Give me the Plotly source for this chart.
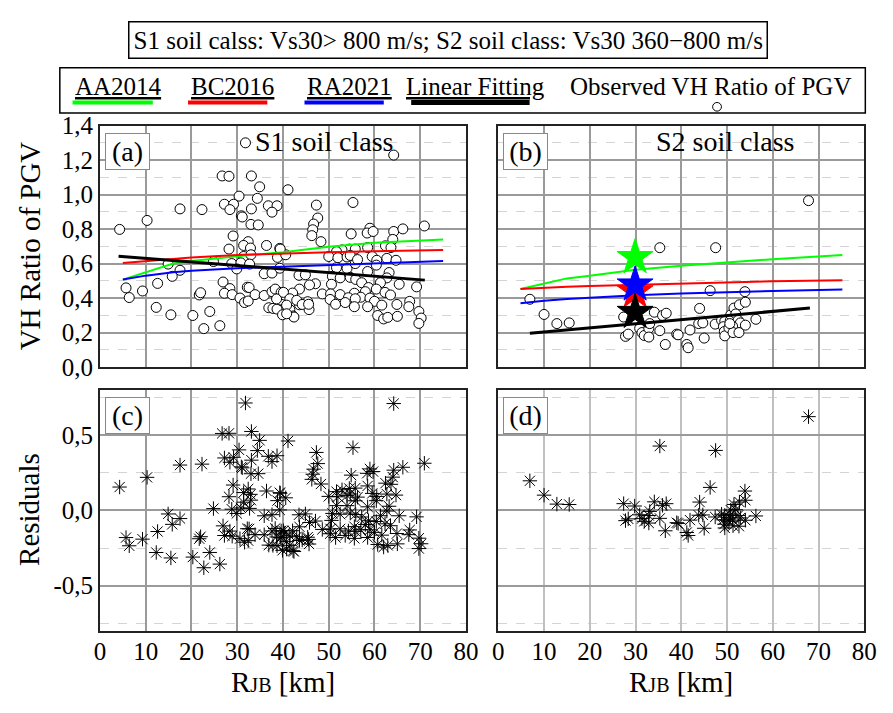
import numpy as np
import plotly.graph_objects as go

# ---------------- data ----------------
# Panel (a): observed VH ratio of PGV, S1 soil class
S1_RJB = [31.8, 26.7, 28.2, 33.1, 34.9, 30.4, 34.4, 27.2, 29.2, 28.4,
          17.5, 22.3, 33.1, 30.9, 31.1, 33.0, 34.6, 36.8, 38.7, 37.6,
          10.3, 4.3, 29.1, 32.4, 31.4, 32.9, 36.4, 28.2, 39.3, 31.4,
          33.0, 38.8, 28.8, 30.8, 32.7, 14.9, 24.8, 17.5, 15.8, 29.9,
          35.9, 37.6, 39.3, 5.7, 6.4, 9.3, 12.6, 12.3, 15.5, 20.3,
          21.7, 22.0, 24.0, 22.7, 26.2, 26.9, 28.4, 27.2, 28.9, 30.6,
          31.6, 32.4, 32.2, 32.6, 33.9, 35.9, 37.6, 38.3, 39.6, 36.9,
          37.8, 38.7, 39.9, 39.6, 41.5, 42.2, 43.6, 45.4, 45.7, 39.4,
          40.4, 38.6,
          64.2, 41.1, 55.3, 47.3, 47.6, 46.7, 46.5, 46.3, 48.3, 59.0,
          58.4, 59.7, 64.2, 66.2, 70.9, 54.9, 64.0, 62.4, 63.6, 58.5,
          54.5, 55.8, 52.9, 51.7, 50.0, 52.0, 54.0, 54.7, 59.5, 60.5,
          62.7, 64.7, 40.6, 39.4, 51.7, 54.0, 55.8, 56.3, 60.4, 58.5,
          63.2, 43.5, 44.9, 50.8, 52.5, 54.7, 55.9, 62.7, 61.3, 50.6,
          47.1, 45.8, 57.2, 65.4, 69.2, 43.6, 42.1, 40.1, 48.6, 50.4,
          52.5, 55.6, 58.7, 60.4, 58.0, 57.0, 59.0, 62.3, 63.5, 41.5,
          43.0, 50.3, 54.3, 55.8, 60.0, 40.8, 44.2, 45.6, 51.5, 53.6,
          55.6, 58.5, 61.6, 64.9, 67.7, 67.5, 42.4, 40.8, 60.7, 62.0,
          62.9, 65.0, 69.7, 70.2, 69.7]
S1_VH = [1.300, 1.108, 1.106, 1.108, 1.045, 0.991, 0.978, 0.944, 0.944, 0.913,
         0.917, 0.913, 0.917, 0.877, 0.870, 0.827, 0.824, 0.935, 0.935, 0.898,
         0.850, 0.798, 0.760, 0.727, 0.705, 0.690, 0.705, 0.684, 0.688, 0.641,
         0.651, 0.636, 0.600, 0.604, 0.597, 0.597, 0.612, 0.561, 0.526, 0.569,
         0.541, 0.545, 0.573, 0.459, 0.403, 0.441, 0.485, 0.346, 0.303, 0.299,
         0.418, 0.431, 0.322, 0.223, 0.240, 0.493, 0.455, 0.428, 0.420, 0.400,
         0.374, 0.383, 0.463, 0.461, 0.420, 0.415, 0.437, 0.452, 0.433, 0.344,
         0.340, 0.336, 0.303, 0.387, 0.333, 0.296, 0.361, 0.379, 0.333, 0.389,
         0.417, 0.395,
         1.229, 1.028, 0.954, 0.939, 0.864, 0.829, 0.796, 0.762, 0.727, 0.805,
         0.777, 0.786, 0.786, 0.801, 0.818, 0.772, 0.740, 0.703, 0.693, 0.693,
         0.684, 0.684, 0.679, 0.669, 0.641, 0.634, 0.638, 0.647, 0.641, 0.619,
         0.630, 0.619, 0.651, 0.684, 0.576, 0.571, 0.600, 0.623, 0.591, 0.554,
         0.548, 0.532, 0.535, 0.526, 0.517, 0.520, 0.508, 0.517, 0.489, 0.480,
         0.483, 0.476, 0.489, 0.480, 0.465, 0.452, 0.429, 0.433, 0.424, 0.424,
         0.420, 0.428, 0.461, 0.452, 0.437, 0.405, 0.400, 0.433, 0.418, 0.396,
         0.387, 0.392, 0.402, 0.396, 0.381, 0.359, 0.363, 0.364, 0.364, 0.374,
         0.350, 0.350, 0.359, 0.363, 0.381, 0.350, 0.290, 0.309, 0.299, 0.279,
         0.288, 0.294, 0.322, 0.284, 0.253]

# Panel (b): observed VH ratio of PGV, S2 soil class
S2_RJB = [6.9, 10.0, 12.8, 15.5, 35.3, 47.5, 46.3, 53.9, 27.4, 27.8,
          28.4, 29.8, 30.9, 31.4, 31.9, 32.9, 33.1, 32.9, 34.1, 35.9,
          36.7, 35.3, 36.5, 39.0, 39.3, 41.2, 41.5, 41.9, 44.0, 43.8,
          44.7, 45.0, 47.4, 48.8, 49.5, 49.2, 49.4, 49.5, 50.7, 50.8,
          51.5, 52.7, 54.0, 51.9, 52.4, 52.9, 54.0, 51.2, 50.4, 51.3,
          52.6, 56.3, 50.6, 67.8]
S2_VH = [0.393, 0.305, 0.252, 0.256, 0.692, 0.692, 0.443, 0.437, 0.290, 0.178,
         0.191, 0.280, 0.224, 0.200, 0.183, 0.224, 0.252, 0.174, 0.318, 0.299,
         0.312, 0.211, 0.131, 0.191, 0.187, 0.131, 0.112, 0.215, 0.340, 0.252,
         0.256, 0.168, 0.249, 0.271, 0.265, 0.234, 0.206, 0.181, 0.271, 0.303,
         0.342, 0.361, 0.376, 0.308, 0.271, 0.256, 0.243, 0.237, 0.228, 0.200,
         0.200, 0.277, 0.252, 0.965]

S1_MODEL_X = [5, 10, 16, 20, 30, 40, 50, 60, 75]
S1_AA2014 = [0.507, 0.55, 0.60, 0.615, 0.643, 0.665, 0.697, 0.72, 0.74]
S1_BC2016 = [0.604, 0.615, 0.627, 0.635, 0.65, 0.66, 0.666, 0.672, 0.678]
S1_RA2021 = [0.507, 0.53, 0.550, 0.558, 0.573, 0.582, 0.595, 0.603, 0.615]

S2_MODEL_X = [4.85, 10, 15, 20, 30, 40, 50, 60, 75.2]
S2_AA2014 = [0.452, 0.485, 0.514, 0.530, 0.564, 0.588, 0.607, 0.625, 0.649]
S2_BC2016 = [0.452, 0.460, 0.465, 0.470, 0.477, 0.485, 0.492, 0.497, 0.503]
S2_RA2021 = [0.370, 0.385, 0.395, 0.403, 0.417, 0.426, 0.434, 0.441, 0.449]

# Linear fitting lines (end points)
S1_FIT_X = [4.06, 71.0]
S1_FIT_Y = [0.643, 0.504]
S2_FIT_X = [6.9, 68.1]
S2_FIT_Y = [0.196, 0.342]

# Star markers at RJB = 30 km (S2 panel)
STAR_X = [29.9, 29.9, 29.9, 29.9]
STAR_Y = [0.437, 0.477, 0.636, 0.318]
STAR_COLORS = ["#ff0000", "#0000ff", "#00ff00", "#000000"]

# Tick labels
X_TICKS = [0, 10, 20, 30, 40, 50, 60, 70, 80]
VH_TICKVALS = [0.0, 0.2, 0.4, 0.6, 0.8, 1.0, 1.2, 1.4]
VH_TICKTEXT = ["0,0", "0,2", "0,4", "0,6", "0,8", "1,0", "1,2", "1,4"]
RES_TICKVALS = [-0.5, 0.0, 0.5]
RES_TICKTEXT = ["-0,5", "0,0", "0,5"]

# residuals = observed - linear fit
def residuals(xs, ys, fx, fy):
    xs = np.asarray(xs); ys = np.asarray(ys)
    slope = (fy[1] - fy[0]) / (fx[1] - fx[0])
    return ys - (fy[0] + slope * (xs - fx[0]))

S1_RES = residuals(S1_RJB, S1_VH, S1_FIT_X, S1_FIT_Y)
S2_RES = residuals(S2_RJB, S2_VH, S2_FIT_X, S2_FIT_Y)

# ---------------- figure ----------------
W, H = 893, 713
FONT = "Liberation Serif"
GREEN, RED, BLUE = "#00ff00", "#ff0000", "#0000ff"

def px(x):
    return x / W

def py(y):
    return 1 - y / H

fig = go.Figure()

circle = dict(symbol="circle", size=10, color="white", line=dict(color="black", width=1))
aster = dict(symbol="asterisk-open", size=12, color="black", line=dict(color="black", width=1))

# Panel (a)
fig.add_trace(go.Scatter(x=S1_RJB, y=S1_VH, mode="markers", marker=circle, xaxis="x", yaxis="y"))
fig.add_trace(go.Scatter(x=S1_MODEL_X, y=S1_AA2014, mode="lines", line=dict(color=GREEN, width=2), xaxis="x", yaxis="y"))
fig.add_trace(go.Scatter(x=S1_MODEL_X, y=S1_BC2016, mode="lines", line=dict(color=RED, width=2), xaxis="x", yaxis="y"))
fig.add_trace(go.Scatter(x=S1_MODEL_X, y=S1_RA2021, mode="lines", line=dict(color=BLUE, width=2), xaxis="x", yaxis="y"))
fig.add_trace(go.Scatter(x=S1_FIT_X, y=S1_FIT_Y, mode="lines", line=dict(color="black", width=3), xaxis="x", yaxis="y"))

# Panel (b)
fig.add_trace(go.Scatter(x=S2_RJB, y=S2_VH, mode="markers", marker=circle, xaxis="x2", yaxis="y2"))
fig.add_trace(go.Scatter(x=S2_MODEL_X, y=S2_AA2014, mode="lines", line=dict(color=GREEN, width=2), xaxis="x2", yaxis="y2"))
fig.add_trace(go.Scatter(x=S2_MODEL_X, y=S2_BC2016, mode="lines", line=dict(color=RED, width=2), xaxis="x2", yaxis="y2"))
fig.add_trace(go.Scatter(x=S2_MODEL_X, y=S2_RA2021, mode="lines", line=dict(color=BLUE, width=2), xaxis="x2", yaxis="y2"))
fig.add_trace(go.Scatter(x=S2_FIT_X, y=S2_FIT_Y, mode="lines", line=dict(color="black", width=3), xaxis="x2", yaxis="y2"))
fig.add_trace(go.Scatter(x=STAR_X, y=STAR_Y, mode="markers",
                         marker=dict(symbol="star", size=27, color=STAR_COLORS,
                                     line=dict(color=STAR_COLORS, width=1)),
                         xaxis="x2", yaxis="y2"))

# Panel (c), (d)
fig.add_trace(go.Scatter(x=S1_RJB, y=S1_RES, mode="markers", marker=aster, xaxis="x3", yaxis="y3"))
fig.add_trace(go.Scatter(x=S2_RJB, y=S2_RES, mode="markers", marker=aster, xaxis="x4", yaxis="y4"))

L_DOM = [px(96), px(470)]
R_DOM = [px(503), px(877)]
T_DOM = [py(368), py(117)]
B_DOM = [py(642), py(392)]

tickfont = dict(family=FONT, size=25, color="black")

def xax(domain, anchor, labels, gridcolor="#9a9a9a"):
    return dict(domain=domain, anchor=anchor, range=[0, 80], tickvals=X_TICKS,
                showticklabels=labels, tickfont=tickfont, ticks="", ticklabelstandoff=-3,
                showgrid=True, gridcolor=gridcolor, gridwidth=1.5, zeroline=False,
                showline=True, mirror=True, linecolor="#222", linewidth=2)

def yax(domain, anchor, rng, tv, tt, minor_vals, labels):
    return dict(domain=domain, anchor=anchor, range=rng, tickmode="array",
                tickvals=tv, ticktext=tt, showticklabels=labels, tickfont=tickfont,
                ticks="", showgrid=True, gridcolor="#9a9a9a", gridwidth=1.5, zeroline=False,
                showline=True, mirror=True, linecolor="#222", linewidth=2,
                minor=dict(tickmode="array", tickvals=minor_vals, showgrid=True,
                           gridcolor="#d4d4d4", gridwidth=1, griddash="dash", ticks=""))

VH_MINOR = [0.1, 0.3, 0.5, 0.7, 0.9, 1.1, 1.3]
RES_MINOR = [-0.75, -0.25, 0.25, 0.75]

fig.update_layout(
    width=W, height=H, margin=dict(l=0, r=0, t=0, b=0),
    paper_bgcolor="white", plot_bgcolor="white", showlegend=False,
    font=dict(family=FONT, color="black"),
    xaxis=xax(L_DOM, "y", False),
    yaxis=yax(T_DOM, "x", [0, 1.4], VH_TICKVALS, VH_TICKTEXT, VH_MINOR, True),
    xaxis2=xax(R_DOM, "y2", False),
    yaxis2=yax(T_DOM, "x2", [0, 1.4], VH_TICKVALS, VH_TICKTEXT, VH_MINOR, False),
    xaxis3=xax(L_DOM, "y3", True),
    yaxis3=yax(B_DOM, "x3", [-0.8, 0.8], RES_TICKVALS, RES_TICKTEXT, RES_MINOR, True),
    xaxis4=xax(R_DOM, "y4", True, gridcolor="#c0c0c0"),
    yaxis4=yax(B_DOM, "x4", [-0.8, 0.8], RES_TICKVALS, RES_TICKTEXT, RES_MINOR, False),
)

def note(text, x, y, size, xanchor="center", yanchor="middle", **kw):
    d = dict(text=text, x=px(x), y=py(y), xref="paper", yref="paper",
             xanchor=xanchor, yanchor=yanchor, showarrow=False,
             font=dict(family=FONT, size=size, color="black"))
    d.update(kw)
    return d

ann = []
# Title box
ann.append(note("S1 soil calss: Vs30&gt; 800 m/s; S2 soil class: Vs30 360\u2212800 m/s",
                451.5, 28, 25, bordercolor="black", borderwidth=1.5, borderpad=4, bgcolor="white"))
# Legend texts
leg_items = [("<u>AA2014</u>", 68), ("<u>BC2016</u>", 187), ("<u>RA2021</u>", 305),
             ("<u>Linear Fitting</u>", 407), ("Observed VH Ratio of PGV", 574)]
for t, x0 in leg_items:
    ann.append(note(t, x0, 76, 25, xanchor="left"))
# Panel labels
for lab, x0, y0 in [("(a)", 101, 125), ("(b)", 508, 125), ("(c)", 101, 399), ("(d)", 508, 399)]:
    ann.append(note(lab, x0, y0, 28, xanchor="left", yanchor="top", width=41, height=33,
                    bordercolor="#888888", borderwidth=1, borderpad=1, bgcolor="white"))
# Soil class labels
ann.append(note("S1 soil class", 324.5, 134, 28))
ann.append(note("S2 soil class", 735, 134, 28))
# Axis titles
ann.append(note("VH Ratio of PGV", 24, 242, 29, textangle=-90))
ann.append(note("Residuals", 24, 516, 29, textangle=-90))
rjb = "R<span style='font-size:20px'>JB</span> [km]"
for xc in (283, 690):
    ann.append(note(rjb, xc, 695, 29))
fig.update_layout(annotations=ann)

shapes = [dict(type="rect", xref="paper", yref="paper", x0=px(55), x1=px(878), y0=py(104), y1=py(57),
               line=dict(color="black", width=1.5))]
for col, a, b, w in [(GREEN, 68, 150, 4), (RED, 186, 267, 4), (BLUE, 305, 386, 4), ("black", 414, 535, 5)]:
    shapes.append(dict(type="line", xref="paper", yref="paper", x0=px(a), x1=px(b), y0=py(93), y1=py(93),
                       line=dict(color=col, width=w)))
shapes.append(dict(type="circle", xref="paper", yref="paper", x0=px(722), x1=px(731), y0=py(102), y1=py(93),
                   line=dict(color="black", width=1), fillcolor="white"))
fig.update_layout(shapes=shapes)

fig.write_html("out.html",
               post_script="document.body.style.margin='0';document.body.style.padding='0';"
                           "document.documentElement.style.overflow='hidden';")
